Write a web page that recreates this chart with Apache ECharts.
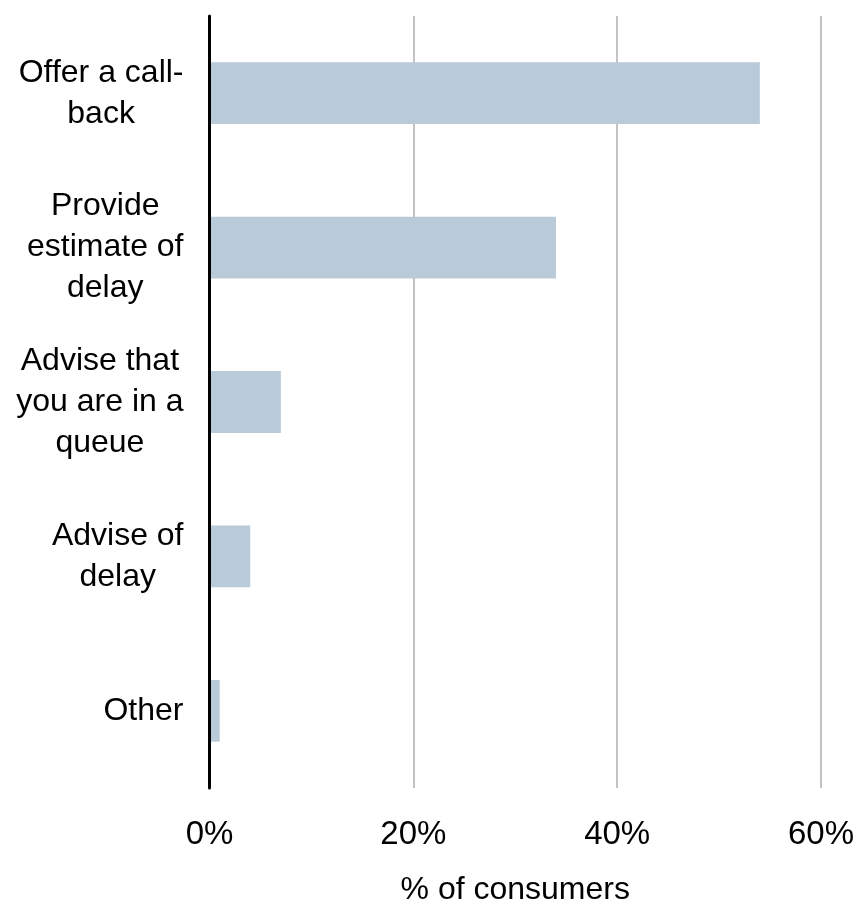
<!DOCTYPE html>
<html>
<head>
<meta charset="utf-8">
<script src="https://cdn.jsdelivr.net/npm/echarts@6/dist/echarts.min.js"></script>
<style>
  html, body { margin: 0; padding: 0; background: #fff; }
  #chart { width: 859px; height: 911px; }
</style>
</head>
<body>
<div id="chart"></div>
<script>
// Preferred actions while waiting, share of consumers (%)
const categories = [
  'Offer a call-\nback',
  'Provide\nestimate of\ndelay',
  'Advise that\nyou are in a\nqueue',
  'Advise of\ndelay',
  'Other'
];
const values = [54, 34, 7, 4, 1];
const xTicks = [0, 20, 40, 60];

const FONT = '"Liberation Sans", Arial, sans-serif';

const chart = echarts.init(document.getElementById('chart'));
chart.setOption({
  animation: false,
  backgroundColor: '#ffffff',
  grid: { left: 209.5, right: 38, top: 16, bottom: 114, containLabel: false },
  xAxis: {
    type: 'value',
    min: xTicks[0],
    max: xTicks[xTicks.length - 1],
    interval: 20,
    name: '% of consumers',
    nameLocation: 'middle',
    nameGap: 86,
    nameTextStyle: { color: '#000', fontFamily: FONT, fontSize: 32 },
    axisLine: { show: false },
    axisTick: { show: false },
    axisLabel: {
      color: '#000', fontFamily: FONT, fontSize: 33, margin: 30,
      formatter: v => v + '%'
    },
    splitLine: { show: true, lineStyle: { color: '#c3c3c3', width: 2 } }
  },
  yAxis: {
    type: 'category',
    data: categories,
    inverse: true,
    z: 5,
    axisLine: { show: true, lineStyle: { color: '#000', width: 3 } },
    axisTick: { show: false },
    axisLabel: {
      margin: 26,
      align: 'right',
      formatter: v => '{c|' + v + '}',
      rich: {
        c: { color: '#000', fontFamily: FONT, fontSize: 32, lineHeight: 41, align: 'center' }
      }
    }
  },
  series: [{
    type: 'bar',
    data: values,
    barCategoryGap: '60%',
    itemStyle: { color: '#b9cad8' }
  }]
});
</script>
</body>
</html>
